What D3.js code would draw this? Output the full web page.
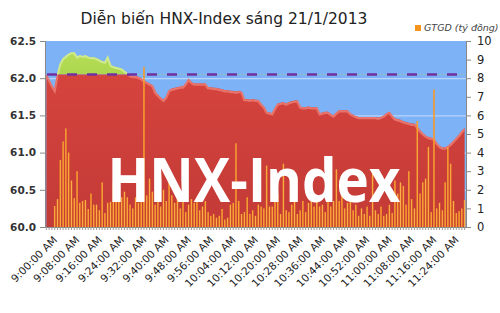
<!DOCTYPE html>
<html>
<head>
<meta charset="utf-8">
<script src="https://cdn.jsdelivr.net/npm/d3@7/dist/d3.min.js"></script>
<style>
body { margin: 0; background: #fff; }
</style>
</head>
<body>
<svg width="500" height="313"></svg>
<script>
// HNX-Index, one value per minute from 9:00 to 11:30
var indexVals = [
  62.05, 61.98, 61.90, 61.84, 62.05, 62.20, 62.27, 62.30, 62.33, 62.35,
  62.35, 62.29, 62.31, 62.30, 62.31, 62.29, 62.28, 62.28, 62.27, 62.25,
  62.23, 62.22, 62.29, 62.18, 62.16, 62.15, 62.14, 62.13, 62.10, 62.07,
  62.04, 62.03, 62.03, 62.02, 62.00, 61.97, 61.95, 61.93, 61.91, 61.82,
  61.78, 61.74, 61.71, 61.75, 61.84, 61.86, 61.87, 61.88, 61.89, 61.89,
  61.93, 61.99, 61.95, 61.93, 61.93, 61.93, 61.93, 61.93, 61.88, 61.88,
  61.87, 61.87, 61.86, 61.85, 61.84, 61.84, 61.83, 61.83, 61.82, 61.83,
  61.82, 61.72, 61.72, 61.71, 61.72, 61.71, 61.71, 61.66, 61.62, 61.55,
  61.54, 61.53, 61.60, 61.66, 61.67, 61.68, 61.66, 61.68, 61.69, 61.70,
  61.70, 61.62, 61.61, 61.61, 61.62, 61.61, 61.61, 61.61, 61.53, 61.54,
  61.55, 61.55, 61.52, 61.50, 61.54, 61.57, 61.57, 61.57, 61.57, 61.53,
  61.51, 61.49, 61.48, 61.48, 61.48, 61.48, 61.48, 61.48, 61.48, 61.47,
  61.48, 61.50, 61.53, 61.55, 61.50, 61.46, 61.45, 61.44, 61.42, 61.41,
  61.40, 61.39, 61.39, 61.35, 61.30, 61.26, 61.23, 61.21, 61.20, 61.19,
  61.13, 61.09, 61.07, 61.07, 61.09, 61.12, 61.16, 61.20, 61.24, 61.29,
  61.33
];

// GTGD (ty dong) per minute
var volumeVals = [
  0.0, 0.0, 0.0, 1.13, 1.5, 3.6, 4.6, 5.3, 4.0, 2.5,
  1.55, 3.0, 1.3, 1.4, 1.45, 0.97, 1.8, 1.2, 1.2, 0.9,
  2.4, 0.75, 1.3, 1.35, 2.4, 1.45, 1.55, 1.6, 1.9, 1.6,
  1.2, 1.0, 1.6, 1.3, 1.5, 8.6, 1.7, 2.6, 1.9, 1.2,
  1.6, 1.1, 2.0, 1.4, 2.5, 1.7, 1.3, 1.8, 1.0, 1.5,
  0.8, 1.2, 1.5, 1.3, 1.4, 0.9, 1.1, 1.4, 0.8, 0.6,
  0.7, 0.5, 0.6, 0.97, 0.4, 0.5, 1.2, 1.3, 4.5, 1.4,
  0.7, 0.8, 1.6, 0.7, 0.9, 0.6, 1.2, 1.1, 1.0, 3.3,
  1.1, 1.1, 1.4, 1.8, 0.7, 3.4, 0.9, 0.8, 1.2, 1.4,
  0.7, 0.9, 1.4, 0.8, 1.3, 2.0, 1.1, 1.4, 1.1, 1.2,
  0.8, 3.2, 1.1, 1.4, 3.1, 1.4, 2.8, 1.0, 1.3, 1.4,
  0.9, 1.2, 0.6, 1.0, 0.7, 1.1, 0.6, 2.9, 0.9, 0.7,
  1.1, 0.6, 0.7, 1.2, 0.75, 2.5, 1.8, 2.4, 2.2, 1.2,
  3.0, 1.5, 1.0, 5.7, 1.8, 2.4, 2.6, 4.3, 0.8, 7.4,
  1.0, 1.3, 0.9, 2.4, 4.3, 3.4, 1.4, 0.75, 0.85, 1.0,
  1.45
];

var refLevel = 62.05; // tham chieu
var leftTicks = [60.0, 60.5, 61.0, 61.5, 62.0, 62.5];
var rightTicks = [0, 1, 2, 3, 4, 5, 6, 7, 8, 9, 10];
var xTickLabels = [
  "9:00:00 AM", "9:08:00 AM", "9:16:00 AM", "9:24:00 AM", "9:32:00 AM",
  "9:40:00 AM", "9:48:00 AM", "9:56:00 AM", "10:04:00 AM", "10:12:00 AM",
  "10:20:00 AM", "10:28:00 AM", "10:36:00 AM", "10:44:00 AM", "10:52:00 AM",
  "11:00:00 AM", "11:08:00 AM", "11:16:00 AM", "11:24:00 AM"
];

// minute categories
var minutes = [];
for (var i = 0; i < indexVals.length; i++) {
  var hh = 9 + Math.floor(i / 60), mm = i % 60;
  minutes.push(hh + ":" + (mm < 10 ? "0" + mm : mm) + ":00 AM");
}

var svg = d3.select("svg");
var pLeft = 45, pRight = 466, pTop = 41, pBottom = 227;

var x = d3.scaleBand().domain(minutes).range([pLeft, pRight]).paddingInner(0.42).paddingOuter(0.2);
var cx = function(i) { return x(minutes[i]) + x.bandwidth() / 2; };
var yL = d3.scaleLinear().domain([60, 62.5]).range([pBottom, pTop]);
var yR = d3.scaleLinear().domain([0, 10]).range([pBottom, pTop]);

var defs = svg.append("defs");
var redGrad = defs.append("linearGradient").attr("id", "redg").attr("x1", 0).attr("y1", 0).attr("x2", 0).attr("y2", 1);
redGrad.append("stop").attr("offset", "0%").attr("stop-color", "#d9453f");
redGrad.append("stop").attr("offset", "100%").attr("stop-color", "#c23a36");
var greenGrad = defs.append("linearGradient").attr("id", "greeng").attr("x1", 0).attr("y1", 0).attr("x2", 0).attr("y2", 1);
greenGrad.append("stop").attr("offset", "0%").attr("stop-color", "#b6dc55");
greenGrad.append("stop").attr("offset", "100%").attr("stop-color", "#8fc63e");
var barGrad = defs.append("linearGradient").attr("id", "barg").attr("x1", 0).attr("y1", 0).attr("x2", 1).attr("y2", 0);
barGrad.append("stop").attr("offset", "0%").attr("stop-color", "#f08a1c");
barGrad.append("stop").attr("offset", "50%").attr("stop-color", "#fbb04a");
barGrad.append("stop").attr("offset", "100%").attr("stop-color", "#f08a1c");

defs.append("clipPath").attr("id", "above").append("rect")
  .attr("x", pLeft).attr("y", pTop).attr("width", pRight - pLeft).attr("height", yL(refLevel) - pTop);
defs.append("clipPath").attr("id", "below").append("rect")
  .attr("x", pLeft).attr("y", yL(refLevel)).attr("width", pRight - pLeft).attr("height", pBottom - yL(refLevel));

// plot background
svg.append("rect").attr("x", pLeft).attr("y", pTop).attr("width", pRight - pLeft).attr("height", pBottom - pTop)
  .attr("fill", "#7eb2f6");

// faint grid
svg.append("g").selectAll("line").data(leftTicks.slice(1, 5)).enter().append("line")
  .attr("x1", pLeft).attr("x2", pRight)
  .attr("y1", function(d) { return yL(d) + 0.5; }).attr("y2", function(d) { return yL(d) + 0.5; })
  .attr("stroke", "#d8e8ff").attr("stroke-width", 1).attr("opacity", 0.8);

// index areas
var aboveArea = d3.area()
  .x(function(d, i) { return cx(i); })
  .y0(yL(refLevel))
  .y1(function(d) { return yL(d); });
var belowArea = d3.area()
  .x(function(d, i) { return cx(i); })
  .y0(pBottom)
  .y1(function(d) { return yL(d); });
var topLine = d3.line()
  .x(function(d, i) { return cx(i); })
  .y(function(d) { return yL(d); });

svg.append("path").datum(indexVals).attr("d", aboveArea)
  .attr("fill", "url(#greeng)").attr("clip-path", "url(#above)");
svg.append("path").datum(indexVals).attr("d", topLine)
  .attr("fill", "none").attr("stroke", "#cfe98f").attr("stroke-width", 2)
  .attr("transform", "translate(0,1)").attr("clip-path", "url(#above)");

svg.append("path").datum(indexVals).attr("d", belowArea)
  .attr("fill", "url(#redg)").attr("clip-path", "url(#below)");
svg.append("path").datum(indexVals).attr("d", topLine)
  .attr("fill", "none").attr("stroke", "#e8736b").attr("stroke-width", 2.2)
  .attr("transform", "translate(0,1.2)").attr("clip-path", "url(#below)");

// reference line
svg.append("line").attr("x1", pLeft).attr("x2", pRight)
  .attr("y1", yL(refLevel)).attr("y2", yL(refLevel))
  .attr("stroke", "#7030a0").attr("stroke-width", 2.6).attr("stroke-dasharray", "10,10")
  .attr("stroke-dashoffset", -2);

// volume bars
svg.append("g").selectAll("rect").data(volumeVals).enter().append("rect")
  .attr("x", function(d, i) { return x(minutes[i]); })
  .attr("width", x.bandwidth())
  .attr("y", function(d) { return yR(d); })
  .attr("height", function(d) { return pBottom - yR(d); })
  .attr("fill", "url(#barg)");

// watermark
svg.append("text").attr("x", 254).attr("y", 202).attr("text-anchor", "middle")
  .attr("font-family", "'Open Sans', sans-serif").attr("font-weight", 700).attr("font-size", 61)
  .attr("textLength", 293).attr("lengthAdjust", "spacingAndGlyphs")
  .attr("fill", "#fff").text("HNX-Index");

// axes
var axisColor = "#888";
var gl = svg.append("g").attr("transform", "translate(" + pLeft + ",0)")
  .call(d3.axisLeft(yL).tickValues(leftTicks).tickFormat(d3.format(".1f")).tickSize(5).tickPadding(4));
gl.select(".domain").attr("stroke", axisColor);
gl.selectAll(".tick line").attr("stroke", axisColor);
gl.selectAll("text").attr("font-family", "'DejaVu Sans', sans-serif").attr("font-weight", "bold")
  .attr("font-size", 10.5).attr("fill", "#333");

var gr = svg.append("g").attr("transform", "translate(" + pRight + ",0)")
  .call(d3.axisRight(yR).tickValues(rightTicks).tickFormat(d3.format("d")).tickSize(5).tickPadding(6));
gr.select(".domain").attr("stroke", axisColor);
gr.selectAll(".tick line").attr("stroke", axisColor);
gr.selectAll("text").attr("font-family", "'DejaVu Sans', sans-serif")
  .attr("font-size", 11.5).attr("fill", "#222");

var gb = svg.append("g").attr("transform", "translate(0," + pBottom + ")")
  .call(d3.axisBottom(x).tickValues(minutes).tickFormat("").tickSize(3).tickSizeOuter(0));
gb.select(".domain").attr("stroke", axisColor);
gb.selectAll(".tick line").attr("stroke", "#999");

// rotated time labels
svg.append("g").selectAll("text").data(xTickLabels).enter().append("text")
  .attr("transform", function(d) { return "translate(" + (cx(minutes.indexOf(d)) + 6) + "," + (pBottom + 8) + ") rotate(-45)"; })
  .attr("text-anchor", "end").attr("dy", "0.75em")
  .attr("font-family", "'DejaVu Sans', sans-serif").attr("font-size", 10.5).attr("fill", "#222")
  .text(function(d) { return d; });

// title
svg.append("text").attr("x", 224).attr("y", 24).attr("text-anchor", "middle")
  .attr("font-family", "'DejaVu Sans', sans-serif").attr("font-size", 15.5).attr("fill", "#222")
  .text("Diễn biến HNX-Index sáng 21/1/2013");

// legend
svg.append("rect").attr("x", 415).attr("y", 25).attr("width", 6).attr("height", 6).attr("fill", "#f7941d");
svg.append("text").attr("x", 424).attr("y", 31)
  .attr("font-family", "'DejaVu Sans', sans-serif").attr("font-style", "italic").attr("font-size", 9.5)
  .attr("fill", "#444").text("GTGD (tỷ đồng)");
</script>
</body>
</html>
